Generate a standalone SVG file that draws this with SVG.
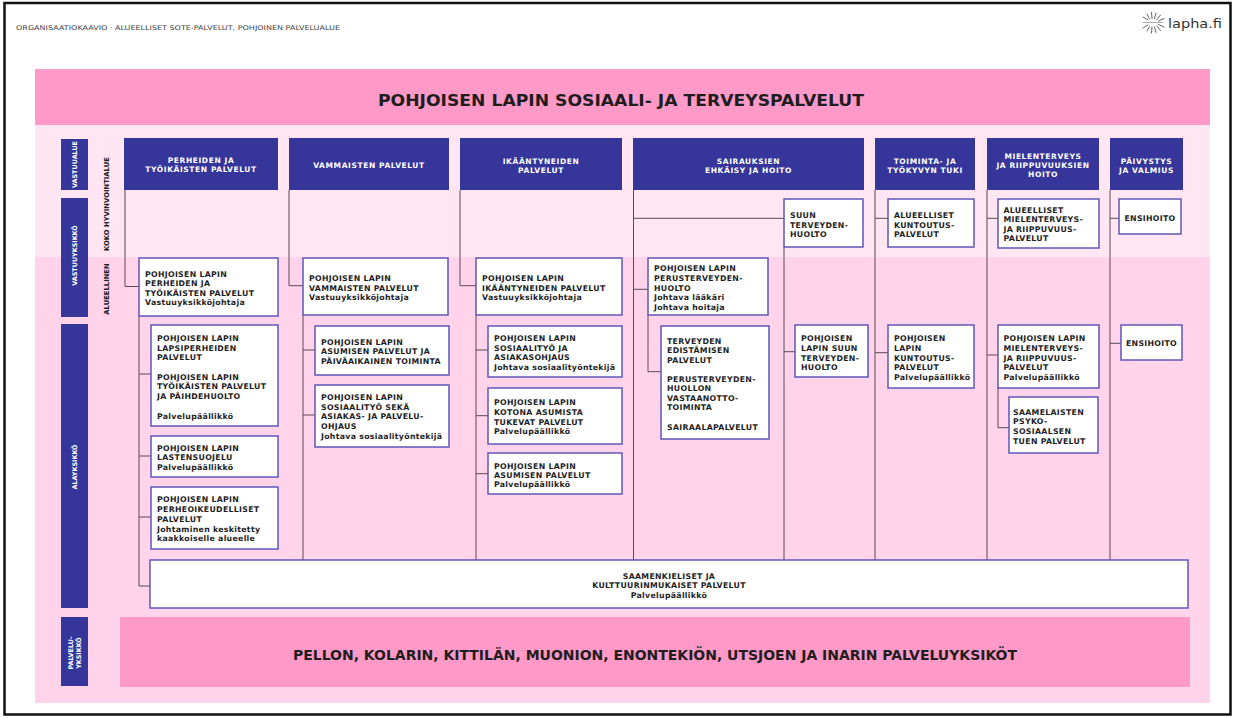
<svg xmlns="http://www.w3.org/2000/svg" width="1235" height="718" viewBox="0 0 1235 718">
<style>
.hdr{fill:#35359a}
.ht{fill:#ffffff;font-family:"DejaVu Sans",sans-serif;font-weight:bold;font-size:7.5px;letter-spacing:0.6px;text-anchor:middle}
.lbl{fill:#35359a}
.lt{fill:#ffffff;font-family:"DejaVu Sans",sans-serif;font-weight:bold;font-size:6.4px;text-anchor:middle}
.vt{fill:#222222;font-family:"DejaVu Sans",sans-serif;font-weight:bold;font-size:6.8px;text-anchor:middle}
.box{fill:#ffffff;stroke:#5f57b8;stroke-width:1.5}
.bt{fill:#1e1e1e;font-family:"DejaVu Sans",sans-serif;font-weight:bold;font-size:7.8px;letter-spacing:0.3px}
.btc{text-anchor:middle}
.con{stroke:#5a4b52;stroke-width:1;fill:none}
.band{fill:#ff99c8}
.big{fill:#1e1e1e;font-family:"DejaVu Sans",sans-serif;font-weight:bold;text-anchor:middle}
</style>
<rect x="0" y="0" width="1235" height="718" fill="#ffffff"/>
<rect x="4.5" y="3" width="1226" height="711.5" fill="none" stroke="#111111" stroke-width="2.5"/>
<text x="16" y="29.5" font-family="DejaVu Sans, sans-serif" font-size="6.5" fill="#444444" textLength="324" lengthAdjust="spacingAndGlyphs">ORGANISAATIOKAAVIO · ALUEELLISET SOTE-PALVELUT, POHJOINEN PALVELUALUE</text>
<g id="logo">
<g stroke="#555555" stroke-width="0.9" stroke-linecap="round">
<line x1="1148" y1="20" x2="1143" y2="17"/><line x1="1149.5" y1="19" x2="1147" y2="14"/><line x1="1152" y1="18.5" x2="1151.5" y2="12.5"/><line x1="1154.5" y1="18.5" x2="1156" y2="13"/><line x1="1157" y1="19.5" x2="1160.5" y2="15"/><line x1="1158.5" y1="21" x2="1164" y2="18.5"/>
<line x1="1148" y1="25" x2="1143" y2="28"/><line x1="1149.5" y1="26.5" x2="1147" y2="31"/><line x1="1152" y1="27" x2="1151.5" y2="33"/><line x1="1154.5" y1="27" x2="1156" y2="32.5"/><line x1="1157" y1="26" x2="1160.5" y2="30.5"/><line x1="1158.5" y1="24.5" x2="1164" y2="27"/>
<line x1="1143" y1="22.5" x2="1163" y2="22.5" stroke-width="0.5"/>
</g>
<text x="1168" y="28" font-family="DejaVu Sans, sans-serif" font-size="12" fill="#333333" textLength="54" lengthAdjust="spacingAndGlyphs">lapha.fi</text>
</g>
<g id="background">
<rect x="35" y="69" width="1175" height="634" fill="#ffd3ea"/>
<rect x="35" y="125" width="1175" height="132" fill="#ffe6f2"/>
<rect x="35" y="69" width="1175" height="56" class="band"/>
</g>
<g id="title">
<text x="621" y="105.5" class="big" font-size="15" textLength="486" lengthAdjust="spacingAndGlyphs">POHJOISEN LAPIN SOSIAALI- JA TERVEYSPALVELUT</text>
</g>
<g id="row-labels">
<rect x="61" y="139" width="27" height="51" class="lbl"/>
<text class="lt" font-size="6" transform="translate(74.5 164.5) rotate(-90)" y="2.2">VASTUUALUE</text>
<rect x="61" y="198" width="27" height="119" class="lbl"/>
<text class="lt" font-size="7.2" transform="translate(74.5 255.5) rotate(-90)" y="2.6">VASTUUYKSIKKÖ</text>
<rect x="61" y="324" width="27" height="284" class="lbl"/>
<text class="lt" font-size="6.7" transform="translate(74.5 467) rotate(-90)" y="2.4">ALAYKSIKKÖ</text>
<rect x="61" y="617" width="27" height="69" class="lbl"/>
<text class="lt" font-size="6" transform="translate(74.5 653) rotate(-90)"><tspan x="0" y="-1.3">PALVELU-</tspan><tspan x="0" y="6.9">YKSIKKÖ</tspan></text>
<text class="vt" transform="translate(107 204) rotate(-90)" y="2.4">KOKO HYVINVOINTIALUE</text>
<text class="vt" transform="translate(107 289) rotate(-90)" y="2.4">ALUEELLINEN</text>
</g>
<g id="connectors" class="con">
<path d="M125 190V286.5H139M139 316V586H150M139 374H151M139 456H151M139 517H151"/>
<path d="M289 190V285.7H303M303 315V560M303 350H315M303 415H315"/>
<path d="M460 190V285.7H476M476 315V560M476 350H488M476 415.7H488M476 473.7H488"/>
<path d="M633.5 190V560M633.5 218.3H784M784 247V560M784 351.7H795M633.5 289.3H648M648 315V371.7H661"/>
<path d="M875 190V560M875 218.3H888M875 352.7H888"/>
<path d="M987 190V560M987 218.3H998M987 355H998M998 388V427.7H1009"/>
<path d="M1110 190V560M1110 218.3H1119M1110 343.3H1121"/>
</g>
<g id="h1"><rect x="124" y="138" width="154" height="52" class="hdr"/><text class="ht"><tspan x="201" y="162.8">PERHEIDEN JA</tspan><tspan x="201" y="171.9">TYÖIKÄISTEN PALVELUT</tspan></text></g>
<g id="h2"><rect x="289" y="138" width="160" height="52" class="hdr"/><text class="ht" x="369" y="167.8">VAMMAISTEN PALVELUT</text></g>
<g id="h3"><rect x="460" y="138" width="162" height="52" class="hdr"/><text class="ht"><tspan x="541" y="163.5">IKÄÄNTYNEIDEN</tspan><tspan x="541" y="172.8">PALVELUT</tspan></text></g>
<g id="h4"><rect x="633" y="138" width="231" height="52" class="hdr"/><text class="ht"><tspan x="748.5" y="163.5">SAIRAUKSIEN</tspan><tspan x="748.5" y="172.8">EHKÄISY JA HOITO</tspan></text></g>
<g id="h5"><rect x="875" y="138" width="100" height="52" class="hdr"/><text class="ht"><tspan x="925" y="163.5">TOIMINTA- JA</tspan><tspan x="925" y="172.8">TYÖKYVYN TUKI</tspan></text></g>
<g id="h6"><rect x="987" y="138" width="112" height="52" class="hdr"/><text class="ht"><tspan x="1043" y="158.5">MIELENTERVEYS</tspan><tspan x="1043" y="167.8">JA RIIPPUVUUKSIEN</tspan><tspan x="1043" y="177.1">HOITO</tspan></text></g>
<g id="h7"><rect x="1110" y="138" width="73" height="52" class="hdr"/><text class="ht"><tspan x="1146.5" y="163.5">PÄIVYSTYS</tspan><tspan x="1146.5" y="172.8">JA VALMIUS</tspan></text></g>
<g id="n1"><rect x="139" y="258" width="139" height="58" class="box"/><text class="bt"><tspan x="145" y="277">POHJOISEN LAPIN</tspan><tspan x="145" y="286.4">PERHEIDEN JA</tspan><tspan x="145" y="295.8">TYÖIKÄISTEN PALVELUT</tspan><tspan x="145" y="305.2">Vastuuyksikköjohtaja</tspan></text></g>
<g id="n1a"><rect x="151" y="325" width="127" height="101" class="box"/><text class="bt"><tspan x="157" y="341.3">POHJOISEN LAPIN</tspan><tspan x="157" y="350.7">LAPSIPERHEIDEN</tspan><tspan x="157" y="360.3">PALVELUT</tspan><tspan x="157" y="379.7">POHJOISEN LAPIN</tspan><tspan x="157" y="389">TYÖIKÄISTEN PALVELUT</tspan><tspan x="157" y="398.7">JA PÄIHDEHUOLTO</tspan><tspan x="157" y="418.7">Palvelupäällikkö</tspan></text></g>
<g id="n1b"><rect x="151" y="436" width="127" height="41" class="box"/><text class="bt"><tspan x="157" y="451">POHJOISEN LAPIN</tspan><tspan x="157" y="460.3">LASTENSUOJELU</tspan><tspan x="157" y="470">Palvelupäällikkö</tspan></text></g>
<g id="n1c"><rect x="151" y="487" width="127" height="62" class="box"/><text class="bt"><tspan x="157" y="502.3">POHJOISEN LAPIN</tspan><tspan x="157" y="512">PERHEOIKEUDELLISET</tspan><tspan x="157" y="521.7">PALVELUT</tspan><tspan x="157" y="531.7">Johtaminen keskitetty</tspan><tspan x="157" y="541.3">kaakkoiselle alueelle</tspan></text></g>
<g id="n2"><rect x="303" y="258" width="145" height="57" class="box"/><text class="bt"><tspan x="309" y="281.3">POHJOISEN LAPIN</tspan><tspan x="309" y="290.7">VAMMAISTEN PALVELUT</tspan><tspan x="309" y="300.3">Vastuuyksikköjohtaja</tspan></text></g>
<g id="n2a"><rect x="315" y="326" width="134" height="49" class="box"/><text class="bt"><tspan x="321" y="344.7">POHJOISEN LAPIN</tspan><tspan x="321" y="354">ASUMISEN PALVELUT JA</tspan><tspan x="321" y="363.7">PÄIVÄAIKAINEN TOIMINTA</tspan></text></g>
<g id="n2b"><rect x="315" y="385" width="134" height="62" class="box"/><text class="bt"><tspan x="321" y="400.3">POHJOISEN LAPIN</tspan><tspan x="321" y="409.7">SOSIAALITYÖ SEKÄ</tspan><tspan x="321" y="419.3">ASIAKAS- JA PALVELU-</tspan><tspan x="321" y="429">OHJAUS</tspan><tspan x="321" y="439">Johtava sosiaalityöntekijä</tspan></text></g>
<g id="n3"><rect x="476" y="258" width="146" height="57" class="box"/><text class="bt"><tspan x="482" y="281.3">POHJOISEN LAPIN</tspan><tspan x="482" y="290.7">IKÄÄNTYNEIDEN PALVELUT</tspan><tspan x="482" y="300.3">Vastuuyksikköjohtaja</tspan></text></g>
<g id="n3a"><rect x="488" y="326" width="134" height="51" class="box"/><text class="bt"><tspan x="494" y="340.7">POHJOISEN LAPIN</tspan><tspan x="494" y="350.7">SOSIAALITYÖ JA</tspan><tspan x="494" y="360.3">ASIAKASOHJAUS</tspan><tspan x="494" y="369.7">Johtava sosiaalityöntekijä</tspan></text></g>
<g id="n3b"><rect x="488" y="388" width="134" height="56" class="box"/><text class="bt"><tspan x="494" y="405.3">POHJOISEN LAPIN</tspan><tspan x="494" y="415.3">KOTONA ASUMISTA</tspan><tspan x="494" y="424.7">TUKEVAT PALVELUT</tspan><tspan x="494" y="434">Palvelupäällikkö</tspan></text></g>
<g id="n3c"><rect x="488" y="453" width="134" height="41" class="box"/><text class="bt"><tspan x="494" y="468.7">POHJOISEN LAPIN</tspan><tspan x="494" y="478">ASUMISEN PALVELUT</tspan><tspan x="494" y="487.3">Palvelupäällikkö</tspan></text></g>
<g id="n4s"><rect x="784" y="199" width="79" height="48" class="box"/><text class="bt"><tspan x="790" y="218">SUUN</tspan><tspan x="790" y="227.7">TERVEYDEN-</tspan><tspan x="790" y="237.3">HUOLTO</tspan></text></g>
<g id="n4sa"><rect x="795" y="325" width="73" height="52" class="box"/><text class="bt"><tspan x="801" y="341.3">POHJOISEN</tspan><tspan x="801" y="350.7">LAPIN SUUN</tspan><tspan x="801" y="360.7">TERVEYDEN-</tspan><tspan x="801" y="369.7">HUOLTO</tspan></text></g>
<g id="n4"><rect x="648" y="258" width="120" height="57" class="box"/><text class="bt"><tspan x="654" y="271.3">POHJOISEN LAPIN</tspan><tspan x="654" y="281.3">PERUSTERVEYDEN-</tspan><tspan x="654" y="290.7">HUOLTO</tspan><tspan x="654" y="300.3">Johtava lääkäri</tspan><tspan x="654" y="310.3">Johtava hoitaja</tspan></text></g>
<g id="n4a"><rect x="661" y="326" width="108" height="113" class="box"/><text class="bt"><tspan x="667" y="343.7">TERVEYDEN</tspan><tspan x="667" y="353">EDISTÄMISEN</tspan><tspan x="667" y="363">PALVELUT</tspan><tspan x="667" y="382.3">PERUSTERVEYDEN-</tspan><tspan x="667" y="391.3">HUOLLON</tspan><tspan x="667" y="400.7">VASTAANOTTO-</tspan><tspan x="667" y="410.3">TOIMINTA</tspan><tspan x="667" y="429.7">SAIRAALAPALVELUT</tspan></text></g>
<g id="n5"><rect x="888" y="199" width="86" height="48" class="box"/><text class="bt"><tspan x="894" y="218">ALUEELLISET</tspan><tspan x="894" y="227.7">KUNTOUTUS-</tspan><tspan x="894" y="237.3">PALVELUT</tspan></text></g>
<g id="n5a"><rect x="888" y="325" width="86" height="63" class="box"/><text class="bt"><tspan x="894" y="341.3">POHJOISEN</tspan><tspan x="894" y="351.3">LAPIN</tspan><tspan x="894" y="360.7">KUNTOUTUS-</tspan><tspan x="894" y="370.3">PALVELUT</tspan><tspan x="894" y="380.3">Palvelupäällikkö</tspan></text></g>
<g id="n6"><rect x="998" y="199" width="101" height="49" class="box"/><text class="bt"><tspan x="1003.5" y="213">ALUEELLISET</tspan><tspan x="1003.5" y="222.3">MIELENTERVEYS-</tspan><tspan x="1003.5" y="232">JA RIIPPUVUUS-</tspan><tspan x="1003.5" y="241.3">PALVELUT</tspan></text></g>
<g id="n6a"><rect x="998" y="325" width="101" height="63" class="box"/><text class="bt"><tspan x="1003.5" y="341.3">POHJOISEN LAPIN</tspan><tspan x="1003.5" y="351.3">MIELENTERVEYS-</tspan><tspan x="1003.5" y="360.7">JA RIIPPUVUUS-</tspan><tspan x="1003.5" y="370.3">PALVELUT</tspan><tspan x="1003.5" y="380.3">Palvelupäällikkö</tspan></text></g>
<g id="n6b"><rect x="1009" y="397" width="89" height="56" class="box"/><text class="bt"><tspan x="1013" y="414.7">SAAMELAISTEN</tspan><tspan x="1013" y="424">PSYKO-</tspan><tspan x="1013" y="434">SOSIAALSEN</tspan><tspan x="1013" y="443.7">TUEN PALVELUT</tspan></text></g>
<g id="n7"><rect x="1119" y="199" width="62" height="35" class="box"/><text class="bt btc" x="1150" y="220.7">ENSIHOITO</text></g>
<g id="n7a"><rect x="1121" y="325" width="61" height="35" class="box"/><text class="bt btc" x="1151.5" y="346.3">ENSIHOITO</text></g>
<g id="saame"><rect x="150" y="560" width="1038" height="48" class="box"/><text class="bt btc"><tspan x="669" y="578.7">SAAMENKIELISET JA</tspan><tspan x="669" y="588">KULTTUURINMUKAISET PALVELUT</tspan><tspan x="669" y="598">Palvelupäällikkö</tspan></text></g>
<g id="palveluyksikot"><rect x="120" y="617" width="1070" height="70" class="band"/><text x="655" y="660" class="big" font-size="14" textLength="724" lengthAdjust="spacingAndGlyphs">PELLON, KOLARIN, KITTILÄN, MUONION, ENONTEKIÖN, UTSJOEN JA INARIN PALVELUYKSIKÖT</text></g>
</svg>
